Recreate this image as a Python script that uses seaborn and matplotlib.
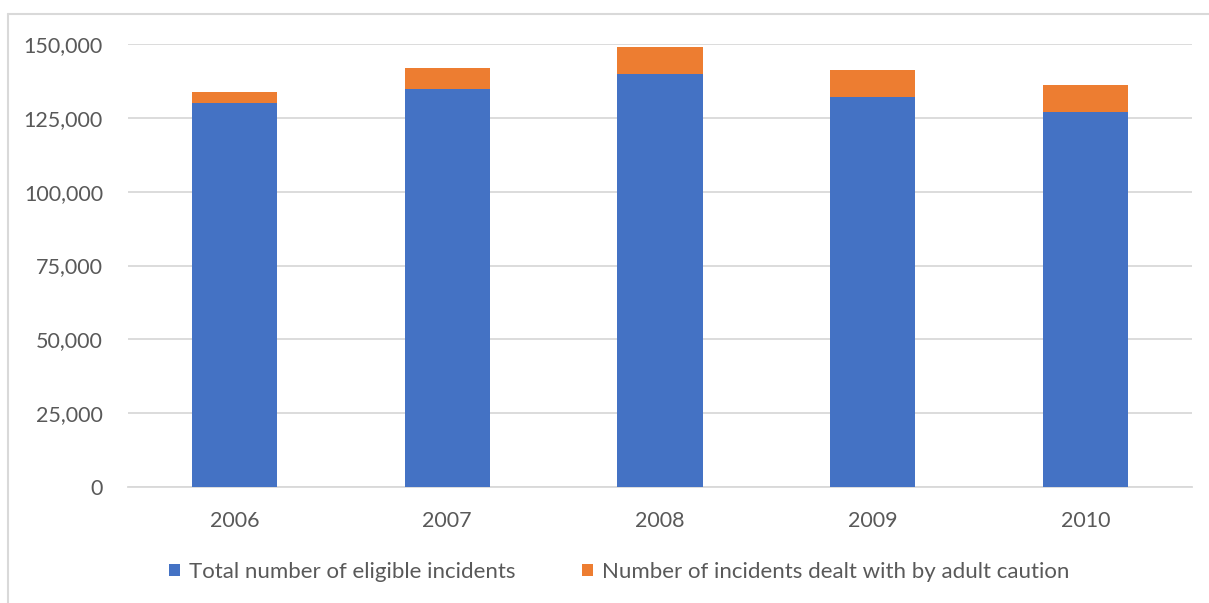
import matplotlib
matplotlib.use("Agg")
import matplotlib.pyplot as plt
import seaborn as sns
import pandas as pd
from matplotlib.patches import Patch
from matplotlib.lines import Line2D
from matplotlib.ticker import FuncFormatter

years = ["2006", "2007", "2008", "2009", "2010"]
eligible_incidents = [130000, 134700, 140000, 132200, 127000]
adult_caution = [3900, 7100, 9100, 9000, 9000]
series_labels = ["Total number of eligible incidents",
                 "Number of incidents dealt with by adult caution"]
y_ticks = [0, 25000, 50000, 75000, 100000, 125000, 150000]

blue = "#4472C4"
orange = "#ED7D31"
text_color = "#595959"
grid_color = "#D9D9D9"

sns.set_theme(style="white")
plt.rcParams["font.family"] = ["Lato", "DejaVu Sans"]

df = pd.DataFrame({
    "year": years,
    "eligible": eligible_incidents,
    "caution": adult_caution,
})
df["stack_top"] = df["eligible"] + df["caution"]

fig = plt.figure(figsize=(12.09, 6.03), dpi=100)
ax = fig.add_axes([128 / 1209, 1 - 487 / 603, 1064 / 1209, 443 / 603])

# Stacked bars: full height in orange, eligible portion drawn over it in blue
sns.barplot(data=df, x="year", y="stack_top", color=orange, saturation=1,
            width=0.4, ax=ax, zorder=3, linewidth=0, edgecolor="none")
sns.barplot(data=df, x="year", y="eligible", color=blue, saturation=1,
            width=0.4, ax=ax, zorder=4, linewidth=0, edgecolor="none")

ax.set_xlim(-0.5, len(years) - 0.5)
ax.set_ylim(0, 150000)
ax.set_yticks(y_ticks)
ax.yaxis.set_major_formatter(FuncFormatter(lambda v, p: f"{int(v):,}"))
ax.grid(axis="y", color=grid_color, linewidth=1.3, zorder=0)
ax.grid(axis="x", visible=False)
for side in ["top", "right", "left"]:
    ax.spines[side].set_visible(False)
ax.spines["bottom"].set_color(grid_color)
ax.spines["bottom"].set_linewidth(1.3)
ax.tick_params(axis="both", length=0, labelsize=15.5, colors=text_color)
ax.tick_params(axis="y", pad=18)
ax.tick_params(axis="x", pad=17)
ax.set_xlabel("")
ax.set_ylabel("")

handles = [Patch(facecolor=blue, edgecolor="none"),
           Patch(facecolor=orange, edgecolor="none")]
fig.legend(handles, series_labels, loc="center", ncol=2,
           bbox_to_anchor=(619 / 1209, 1 - 572 / 603), frameon=False,
           fontsize=16, labelcolor=text_color, handlelength=0.5,
           handleheight=0.5, handletextpad=0.4, columnspacing=3.0)

# Outer chart frame (top and left edges)
fig.add_artist(Line2D([8 / 1209, 1.0], [1 - 14 / 603] * 2, color="#D9D9D9",
                      linewidth=1.5, transform=fig.transFigure))
fig.add_artist(Line2D([8 / 1209] * 2, [0.0, 1 - 14 / 603], color="#D9D9D9",
                      linewidth=1.5, transform=fig.transFigure))

fig.savefig("out.png", dpi=100)
